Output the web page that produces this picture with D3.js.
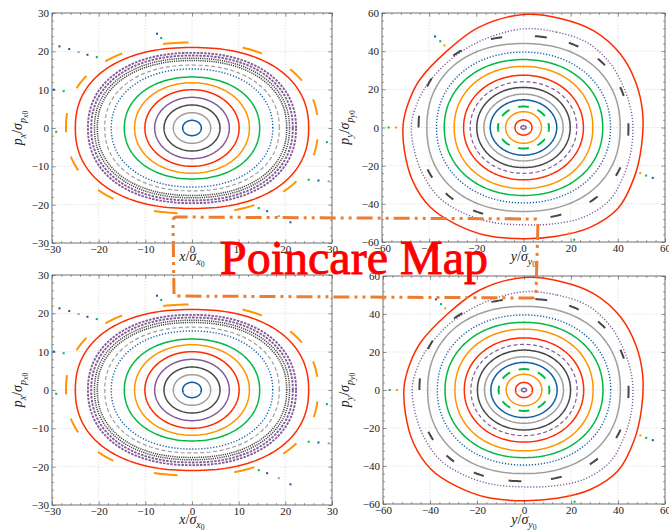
<!DOCTYPE html>
<html>
<head>
<meta charset="utf-8">
<script src="https://cdn.jsdelivr.net/npm/d3@7"></script>
<style>
  body { margin: 0; background: #fff; }
  text { font-family: "Liberation Serif", "DejaVu Serif", serif; }
</style>
</head>
<body>
<script>
// Palette (SciencePlots-like cycle)
var palette = { blue: "#0C5DA5", green: "#00B945", orange: "#FF9500", red: "#FF2C00",
                purple: "#845B97", black: "#474747", gray: "#9e9e9e" };

// ---- x - px section: rings (semi-axes a, b, squareness n)
var xRings = [
  { a: 2.0,  b: 2.0,  n: 2.0,  c: "blue",   m: "line" },
  { a: 4.0,  b: 4.0,  n: 2.0,  c: "gray",   m: "line" },
  { a: 6.0,  b: 6.0,  n: 2.0,  c: "black",  m: "line" },
  { a: 8.0,  b: 8.0,  n: 2.0,  c: "purple", m: "line" },
  { a: 10.1, b: 10.0, n: 2.0,  c: "red",    m: "line" },
  { a: 12.3, b: 11.8, n: 2.05, c: "orange", m: "line" },
  { a: 14.5, b: 13.3, n: 2.1,  c: "green",  m: "line" },
  { a: 17.3, b: 15.4, n: 2.15, c: "blue",   m: "dot" },
  { a: 18.7, b: 16.4, n: 2.2,  c: "gray",   m: "dash" },
  { a: 20.3, b: 17.6, n: 2.2,  c: "black",  m: "fuzz" },
  { a: 20.9, b: 18.2, n: 2.2,  c: "black",  m: "fuzz" },
  { a: 21.6, b: 18.9, n: 2.2,  c: "purple", m: "band" },
  { a: 22.3, b: 19.6, n: 2.2,  c: "purple", m: "band" },
  { a: 25.0, b: 21.0, n: 2.25, c: "red",    m: "line" }
];
// island chain (orange) : ring and centre angle of each island (deg)
var xIslandRing = { a: 27.0, b: 22.3, n: 2.25, c: "orange" };
var xIslandAngles = [96, 64, 36, 12, -11, -41, -68, -100, -131, -158, 177, 150, 126];
var xIslandSpan = 10;
// stray chaotic points
var xStray = [
  [-28.4, 21.3, "black"], [-26.3, 20.6, "blue"], [-24.3, 19.8, "gray"], [-22.4, 19.1, "blue"],
  [-20.4, 18.5, "green"], [-7.5, 24.6, "blue"], [-6.6, 23.5, "green"], [-27.5, 9.6, "green"],
  [-29.6, 10.0, "blue"], [-29.1, -1.0, "green"], [28.9, -3.7, "green"], [25.0, -13.5, "green"],
  [27.1, -13.7, "blue"], [29.3, -13.9, "gray"], [14.3, -20.9, "green"], [16.1, -21.7, "blue"],
  [18.6, -23.0, "gray"], [21.1, -24.6, "blue"]
];
var xTicks = [-30, -20, -10, 0, 10, 20, 30];

// ---- y - py section
var yRings = [
  { a: 1.1,  b: 0.9,  n: 2.0,  c: "purple", m: "line" },
  { a: 3.6,  b: 4.0,  n: 2.0,  c: "red",    m: "line" },
  { a: 7.6,  b: 8.3,  n: 2.0,  c: "orange", m: "line" },
  { a: 14.1, b: 14.5, n: 2.0,  c: "blue",   m: "line" },
  { a: 16.8, b: 17.5, n: 2.0,  c: "gray",   m: "line" },
  { a: 19.8, b: 21.0, n: 2.05, c: "black",  m: "line" },
  { a: 22.6, b: 24.0, n: 2.05, c: "purple", m: "dash" },
  { a: 25.4, b: 27.4, n: 2.05, c: "red",    m: "line" },
  { a: 29.4, b: 32.0, n: 2.1,  c: "orange", m: "line" },
  { a: 33.6, b: 35.6, n: 2.1,  c: "green",  m: "line" },
  { a: 36.9, b: 39.5, n: 2.1,  c: "blue",   m: "dot" },
  { a: 41.0, b: 44.0, n: 2.2,  c: "gray",   m: "line" }
];
var yInnerIslandRing = { a: 10.8, b: 11.0, n: 2.0, c: "green" };
var yInnerIslandAngles = [90, 45, 0, -45, -90, -135, 180, 135];
var yInnerIslandSpan = 24;
var yOuterIslandRing = { a: 44.5, b: 48.0, n: 2.2, c: "black" };
var yOuterIslandAngles = [82, 63.6, 43.8, 21, -1, -26.6, -50, -74, -94, -113.5, -133, -152, 177, 152.6, 127, 103];
var yOuterIslandSpan = 6;
// deformed outer orbits (traced points)
var yPurpleEdge = [[0, 51.7], [14, 50], [27, 44.5], [36.5, 34], [42.5, 21], [46, 6], [46, -9], [43, -23.5],
  [36.5, -38], [25.5, -47], [12.5, -50.5], [0, -51], [-14, -49.5], [-26, -44.5], [-35.5, -37],
  [-42.5, -25], [-46.5, -11], [-47.5, 2], [-45, 13], [-40.5, 23], [-30.5, 36], [-17, 46]];
var yRedEdge = [[0, 59.2], [16, 57], [30, 50.5], [41, 38.6], [47.5, 24], [50.5, 8], [50, -10], [47, -26],
  [40, -42.5], [28, -52.5], [14, -57], [0, -58.3], [-16, -56.5], [-29, -50.5], [-39.6, -41.7],
  [-47, -28], [-50.5, -12], [-51, 2], [-48.5, 14], [-44, 25], [-33, 39.5], [-19, 52.5]];
var yStray = [
  [-37.5, 47.7, "blue"], [-35.3, 45.2, "green"], [-33.5, 43.0, "orange"], [-57.2, 0, "green"],
  [-54.1, 0, "orange"], [49.5, -23.9, "orange"], [52.0, -25.2, "green"], [54.8, -26.4, "blue"],
  [19.2, -55.5, "orange"], [21.5, -58.8, "green"]
];
var yTicks = [-60, -40, -20, 0, 20, 40, 60];

var svgWidth = 669, svgHeight = 531;
var svg = d3.select("body").append("svg")
  .attr("width", svgWidth).attr("height", svgHeight);

// superellipse outline (or part of it) of a ring, angles in degrees
function ringPts(r, t0, t1) {
  if (t0 === undefined) { t0 = 0; t1 = 360; }
  var pts = [], steps = Math.max(6, Math.ceil(Math.abs(t1 - t0) / 2)), e = 2 / r.n;
  for (var i = 0; i <= steps; i++) {
    var t = (t0 + (t1 - t0) * i / steps) * Math.PI / 180;
    var c = Math.cos(t), s = Math.sin(t);
    pts.push([r.a * Math.sign(c) * Math.pow(Math.abs(c), e), r.b * Math.sign(s) * Math.pow(Math.abs(s), e)]);
  }
  return pts;
}

var markStyle = {
  line: { w: 1.5, dash: null },
  dot:  { w: 1.4, dash: "1.2,1.8" },
  dash: { w: 1.2, dash: "4,2.5" },
  fuzz: { w: 1.5, dash: "1.2,1" },
  band: { w: 1.9, dash: "2.5,1.2" }
};

// math label with sub / subsub scripts ; parts = [text, level, italic]
function mathText(sel, parts, size) {
  var sizes = [size, size * 0.72, size * 0.55], shift = [0, size * 0.28, size * 0.45];
  var cur = 0;
  parts.forEach(function(p) {
    sel.append("tspan")
      .attr("dy", shift[p[1]] - cur)
      .attr("font-size", sizes[p[1]])
      .attr("font-style", p[2] ? "italic" : "normal")
      .text(p[0]);
    cur = shift[p[1]];
  });
}

function drawPanel(cfg) {
  var x0 = cfg.box[0], y0 = cfg.box[1], w = cfg.box[2], h = cfg.box[3];
  var lim = cfg.ticks[cfg.ticks.length - 1];
  var x = d3.scaleLinear().domain([-lim, lim]).range([x0, x0 + w]);
  var y = d3.scaleLinear().domain([-lim, lim]).range([y0 + h, y0]);
  var g = svg.append("g");

  var clipId = "clip" + cfg.id;
  svg.append("clipPath").attr("id", clipId)
    .append("rect").attr("x", x0).attr("y", y0).attr("width", w).attr("height", h);

  // grid
  var grid = g.append("g").attr("stroke", "#d4d4d4").attr("stroke-width", 0.6).attr("stroke-dasharray", "1.5,1.5");
  cfg.ticks.forEach(function(t) {
    grid.append("line").attr("x1", x(t)).attr("x2", x(t)).attr("y1", y0).attr("y2", y0 + h);
    grid.append("line").attr("y1", y(t)).attr("y2", y(t)).attr("x1", x0).attr("x2", x0 + w);
  });

  var plot = g.append("g").attr("clip-path", "url(#" + clipId + ")").attr("fill", "none");
  var line = d3.line().x(function(d) { return x(d[0]); }).y(function(d) { return y(d[1]); });
  var closed = d3.line().curve(d3.curveCatmullRomClosed)
    .x(function(d) { return x(d[0]); }).y(function(d) { return y(d[1]); });

  cfg.rings.forEach(function(r) {
    var st = markStyle[r.m];
    plot.append("path").attr("d", line(ringPts(r)))
      .attr("stroke", palette[r.c]).attr("stroke-width", st.w)
      .attr("stroke-dasharray", st.dash);
  });

  (cfg.edges || []).forEach(function(e) {
    var st = markStyle[e.m];
    plot.append("path").attr("d", closed(e.pts))
      .attr("stroke", palette[e.c]).attr("stroke-width", st.w)
      .attr("stroke-dasharray", st.dash);
  });

  cfg.islands.forEach(function(isl) {
    isl.angles.forEach(function(a) {
      plot.append("path").attr("d", line(ringPts(isl.ring, a - isl.span / 2, a + isl.span / 2)))
        .attr("stroke", palette[isl.ring.c]).attr("stroke-width", 2);
    });
  });

  plot.selectAll("rect.stray").data(cfg.stray).enter().append("rect")
    .attr("x", function(d) { return x(d[0]) - 1; })
    .attr("y", function(d) { return y(d[1]) - 1; })
    .attr("width", 2).attr("height", 2)
    .attr("fill", function(d) { return palette[d[2]]; });

  // frame + ticks (inward, all sides)
  var step = cfg.ticks[1] - cfg.ticks[0];
  var minor = d3.range(-lim, lim + 1e-9, step / 5).filter(function(v) {
    return cfg.ticks.indexOf(Math.round(v)) < 0 || Math.abs(v - Math.round(v)) > 1e-6;
  });
  function axes(gen, tr, labels, pad) {
    var a = g.append("g").attr("transform", tr)
      .call(gen(cfg.ticks).tickSizeInner(-3.5).tickSizeOuter(0).tickPadding(pad)
        .tickFormat(labels ? null : ""));
    a.select(".domain").remove();
    a.attr("font-family", "Liberation Serif, serif").attr("font-size", 11);
    a.selectAll("line").attr("stroke", "#444").attr("stroke-width", 0.6);
    a.selectAll("text").attr("fill", "#222");
    var m = g.append("g").attr("transform", tr).call(gen(minor).tickSizeInner(-2).tickSizeOuter(0).tickFormat(""));
    m.select(".domain").remove();
    m.selectAll("line").attr("stroke", "#444").attr("stroke-width", 0.5);
  }
  function axB(v) { return d3.axisBottom(x).tickValues(v); }
  function axT(v) { return d3.axisTop(x).tickValues(v); }
  function axL(v) { return d3.axisLeft(y).tickValues(v); }
  function axR(v) { return d3.axisRight(y).tickValues(v); }
  axes(axB, "translate(0," + (y0 + h) + ")", true, 2);
  axes(axT, "translate(0," + y0 + ")", false, 0);
  axes(axL, "translate(" + x0 + ",0)", true, 3);
  axes(axR, "translate(" + (x0 + w) + ",0)", false, 0);

  g.append("rect").attr("x", x0).attr("y", y0).attr("width", w).attr("height", h)
    .attr("fill", "none").attr("stroke", "#555").attr("stroke-width", 0.8);

  // axis titles
  var xt = g.append("text").attr("x", x0 + w / 2).attr("y", cfg.xlabY)
    .attr("text-anchor", "middle").attr("fill", "#222");
  mathText(xt, cfg.xlab, 14);
  var yt = g.append("text").attr("text-anchor", "middle").attr("fill", "#222")
    .attr("transform", "translate(" + cfg.ylabX + "," + (y0 + h / 2) + ") rotate(-90)");
  mathText(yt, cfg.ylab, 14);
}

var xLab = [["x", 0, 1], ["/", 0, 0], ["σ", 0, 1], ["x", 1, 1], ["0", 2, 0]];
var pxLab = [["p", 0, 1], ["x", 1, 1], ["/", 0, 0], ["σ", 0, 1], ["p", 1, 1], ["x", 2, 1], ["0", 2, 0]];
var yLab = [["y", 0, 1], ["/", 0, 0], ["σ", 0, 1], ["y", 1, 1], ["0", 2, 0]];
var pyLab = [["p", 0, 1], ["y", 1, 1], ["/", 0, 0], ["σ", 0, 1], ["p", 1, 1], ["y", 2, 1], ["0", 2, 0]];

var xPanel = {
  rings: xRings, stray: xStray, ticks: xTicks, xlab: xLab, ylab: pxLab,
  islands: [{ ring: xIslandRing, angles: xIslandAngles, span: xIslandSpan }]
};
var yPanel = {
  rings: yRings, stray: yStray, ticks: yTicks, xlab: yLab, ylab: pyLab,
  edges: [{ pts: yPurpleEdge, c: "purple", m: "dot" }, { pts: yRedEdge, c: "red", m: "line" }],
  islands: [{ ring: yInnerIslandRing, angles: yInnerIslandAngles, span: yInnerIslandSpan },
            { ring: yOuterIslandRing, angles: yOuterIslandAngles, span: yOuterIslandSpan }]
};

drawPanel(Object.assign({ id: 1, box: [52, 13, 280, 230], xlabY: 261, ylabX: 22 }, xPanel));
drawPanel(Object.assign({ id: 2, box: [382, 13, 283, 229], xlabY: 261, ylabX: 349 }, yPanel));
drawPanel(Object.assign({ id: 3, box: [52, 275, 280, 230], xlabY: 524, ylabX: 22 }, xPanel));
drawPanel(Object.assign({ id: 4, box: [383, 276, 282, 228], xlabY: 524, ylabX: 349 }, yPanel));

// overlay: dash-dot frame and title
svg.append("path")
  .attr("d", "M174,294 L173,221 Q173,217 177,217 L535,219 Q538,219 538,222 L536,294 Q536,298 532,298 L178,296 Q174,296 174,294 Z")
  .attr("fill", "none").attr("stroke", "#ED7D31").attr("stroke-width", 3)
  .attr("stroke-dasharray", "16,5,3,5,3,5");

svg.append("text")
  .attr("x", 354).attr("y", 274)
  .attr("text-anchor", "middle")
  .attr("font-size", 48)
  .attr("fill", "#ff0000")
  .attr("stroke", "#ff0000").attr("stroke-width", 0.9)
  .text("Poincare Map");
</script>
</body>
</html>
